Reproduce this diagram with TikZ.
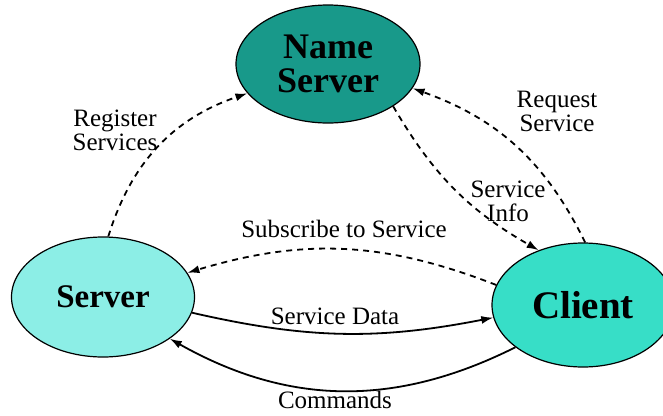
\documentclass[tikz,border=0pt]{standalone}
\usepackage{fontspec}
\setmainfont{Liberation Serif}
\usetikzlibrary{arrows,arrows.meta}
\usetikzlibrary{shapes}
\definecolor{nsteal}{HTML}{18998A}
\definecolor{srvcyan}{HTML}{8CEEE6}
\definecolor{clicyan}{HTML}{37DEC7}
\tikzset{
    place/.style args={#1 #2 #3}{
        ellipse, draw, line width=1.2pt, fill=#1,
        minimum width=#2, minimum height=#3, inner sep=0pt, align=center
    },
    msg/.style={line width=1.8pt, -{Latex[length=12pt,width=8pt]}},
    ask/.style={msg, dash pattern=on 6pt off 5pt},
    lbl/.style={align=center, font=\fontsize{25}{24}\selectfont}
}

\begin{document}
\begin{tikzpicture}[x=1pt, y=-1pt]
    \useasboundingbox (0,0) rectangle (663,415);
    % the three parties
    \node[place={nsteal 184pt 118pt}, font=\fontsize{36}{34}\selectfont\bfseries] (ns) at (328,64) {Name\\Server};
    \node[place={srvcyan 183pt 120pt}, font=\fontsize{33}{33}\selectfont\bfseries] (srv) at (103,297) {Server};
    \node[place={clicyan 182pt 124pt}, font=\fontsize{39}{39}\selectfont\bfseries] (cli) at (583,305) {Client};
    % lookup messages
    \draw[ask] (srv.85) to[bend left=27] (ns.200);
    \draw[ask] (cli.88) to[bend right=22] (ns.344);
    \draw[ask] (ns.327) to[bend right=15] (cli.129);
    \draw[ask] (cli.167) to[bend right=19] (srv.16);
    % data messages
    \draw[msg] (srv.350) to[bend right=12] (cli.188);
    \draw[msg] (cli.212) to[bend left=28] (srv.328);
    % labels
    \node[lbl] (lreg) at (115,130) {Register\\Services};
    \node[lbl] (lreq) at (557,111) {Request\\Service};
    \node[lbl] (linf) at (508,201) {Service\\Info};
    \node[lbl] (lsub) at (344,229) {Subscribe to Service};
    \node[lbl] (ldat) at (335,316) {Service Data};
    \node[lbl] (lcmd) at (335,400) {Commands};
\end{tikzpicture}
\end{document}
